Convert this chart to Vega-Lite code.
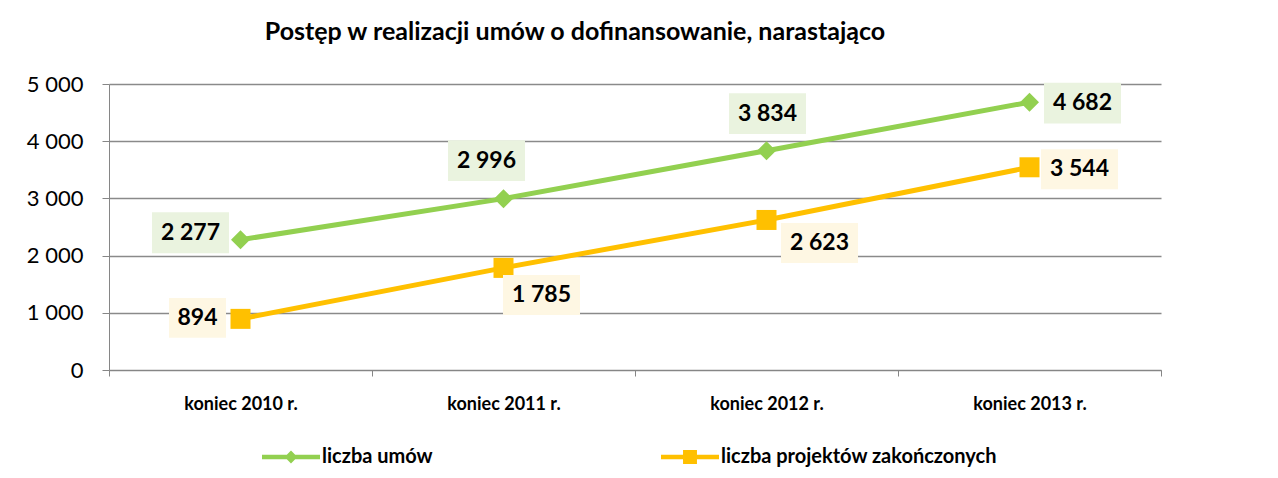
{
  "$schema": "https://vega.github.io/schema/vega-lite/v6.json",
  "width": 1052,
  "height": 286,
  "autosize": {"type": "none"},
  "padding": {"left": 109, "top": 84, "right": 117, "bottom": 108},
  "background": "white",
  "title": {
    "text": "Postęp w realizacji umów o dofinansowanie, narastająco",
    "anchor": "middle",
    "dx": -60,
    "offset": 28,
    "fontSize": 25,
    "fontWeight": "bold",
    "font": "Lato",
    "color": "black"
  },
  "data": {
    "values": [
      {"year": "koniec 2010 r.", "series": "liczba umów", "value": 2277},
      {"year": "koniec 2011 r.", "series": "liczba umów", "value": 2996},
      {"year": "koniec 2012 r.", "series": "liczba umów", "value": 3834},
      {"year": "koniec 2013 r.", "series": "liczba umów", "value": 4682},
      {"year": "koniec 2010 r.", "series": "liczba projektów zakończonych", "value": 894},
      {"year": "koniec 2011 r.", "series": "liczba projektów zakończonych", "value": 1785},
      {"year": "koniec 2012 r.", "series": "liczba projektów zakończonych", "value": 2623},
      {"year": "koniec 2013 r.", "series": "liczba projektów zakończonych", "value": 3544}
    ]
  },
  "encoding": {
    "x": {
      "field": "year",
      "type": "nominal",
      "sort": null,
      "bandPosition": 0.5,
      "scale": {"type": "band", "paddingInner": 0, "paddingOuter": 0},
      "axis": {
        "title": null,
        "labelAngle": 0,
        "labelFont": "Lato",
        "labelFontSize": 18,
        "labelFontWeight": "bold",
        "labelColor": "black",
        "labelPadding": 19,
        "tickBand": "extent",
        "tickSize": 6,
        "tickColor": "#868686",
        "domainColor": "#868686",
        "grid": false
      }
    },
    "y": {
      "field": "value",
      "type": "quantitative",
      "scale": {"domain": [0, 5000]},
      "axis": {
        "title": null,
        "values": [0, 1000, 2000, 3000, 4000, 5000],
        "format": ",d",
        "labelFont": "Lato",
        "labelFontSize": 22,
        "labelColor": "black",
        "labelPadding": 19,
        "tickSize": 7,
        "tickColor": "#868686",
        "domainColor": "#868686",
        "gridColor": "#8a8a8a",
        "gridWidth": 1.3
      }
    }
  },
  "layer": [
    {
      "mark": {"type": "line", "strokeWidth": 5},
      "encoding": {
        "color": {
          "field": "series",
          "type": "nominal",
          "sort": null,
          "scale": {"domain": ["liczba umów", "liczba projektów zakończonych"], "range": ["#92D050", "#FFC000"]},
          "legend": {
            "orient": "none",
            "legendX": 153,
            "legendY": 344,
            "direction": "horizontal",
            "title": null,
            "labelFont": "Lato",
            "labelFontSize": 20,
            "labelFontWeight": "bold",
            "labelColor": "black",
            "labelOffset": 2,
            "labelLimit": 500,
            "symbolSize": 3364,
            "columnPadding": 228,
            "padding": 0,
            "encode": {
              "symbols": {
                "update": {
                  "shape": {"signal": "datum.value == 'liczba umów' ? 'M-1,-0.08H1V0.08H-1Z M-0.22,0L0,-0.22L0.22,0L0,0.22Z' : 'M-1,-0.08H1V0.08H-1Z M-0.24,-0.24H0.24V0.24H-0.24Z'"},
                  "size": {"value": 3364},
                  "fill": {"signal": "scale('color', datum.value)"},
                  "fillOpacity": {"value": 1},
                  "strokeWidth": {"value": 0}
                }
              }
            }
          }
        }
      }
    },
    {
      "transform": [{"filter": "datum.series == 'liczba umów'"}],
      "mark": {"type": "point", "shape": "diamond", "size": 361, "filled": true, "opacity": 1, "color": "#92D050"}
    },
    {
      "transform": [{"filter": "datum.series != 'liczba umów'"}],
      "mark": {"type": "point", "shape": "square", "size": 400, "filled": true, "opacity": 1, "color": "#FFC000"}
    },
    {
      "transform": [{"filter": "datum.series == 'liczba umów' && datum.year == 'koniec 2010 r.'"}],
      "layer": [
        {"mark": {"type": "point", "shape": "M-1,-0.53H1V0.53H-1Z", "size": 5929, "filled": true, "color": "#EAF3DF", "opacity": 1, "xOffset": -50, "yOffset": -7}},
        {"mark": {"type": "text", "font": "Lato", "fontSize": 23, "fontWeight": "bold", "color": "black", "xOffset": -50, "yOffset": -7, "baseline": "middle"}, "encoding": {"text": {"field": "value", "type": "quantitative", "format": ",d"}}}
      ]
    },
    {
      "transform": [{"filter": "datum.series == 'liczba umów' && datum.year == 'koniec 2011 r.'"}],
      "layer": [
        {"mark": {"type": "point", "shape": "M-1,-0.53H1V0.53H-1Z", "size": 5929, "filled": true, "color": "#EAF3DF", "opacity": 1, "xOffset": -17, "yOffset": -38}},
        {"mark": {"type": "text", "font": "Lato", "fontSize": 23, "fontWeight": "bold", "color": "black", "xOffset": -17, "yOffset": -38, "baseline": "middle"}, "encoding": {"text": {"field": "value", "type": "quantitative", "format": ",d"}}}
      ]
    },
    {
      "transform": [{"filter": "datum.series == 'liczba umów' && datum.year == 'koniec 2012 r.'"}],
      "layer": [
        {"mark": {"type": "point", "shape": "M-1,-0.53H1V0.53H-1Z", "size": 5929, "filled": true, "color": "#EAF3DF", "opacity": 1, "xOffset": 1, "yOffset": -37}},
        {"mark": {"type": "text", "font": "Lato", "fontSize": 23, "fontWeight": "bold", "color": "black", "xOffset": 1, "yOffset": -37, "baseline": "middle"}, "encoding": {"text": {"field": "value", "type": "quantitative", "format": ",d"}}}
      ]
    },
    {
      "transform": [{"filter": "datum.series == 'liczba umów' && datum.year == 'koniec 2013 r.'"}],
      "layer": [
        {"mark": {"type": "point", "shape": "M-1,-0.53H1V0.53H-1Z", "size": 5929, "filled": true, "color": "#EAF3DF", "opacity": 1, "xOffset": 53, "yOffset": 1}},
        {"mark": {"type": "text", "font": "Lato", "fontSize": 23, "fontWeight": "bold", "color": "black", "xOffset": 53, "yOffset": 1, "baseline": "middle"}, "encoding": {"text": {"field": "value", "type": "quantitative", "format": ",d"}}}
      ]
    },
    {
      "transform": [{"filter": "datum.series != 'liczba umów' && datum.year == 'koniec 2010 r.'"}],
      "layer": [
        {"mark": {"type": "point", "shape": "M-1,-0.7H1V0.7H-1Z", "size": 3249, "filled": true, "color": "#FEF7E3", "opacity": 1, "xOffset": -43, "yOffset": -1}},
        {"mark": {"type": "text", "font": "Lato", "fontSize": 23, "fontWeight": "bold", "color": "black", "xOffset": -43, "yOffset": -1, "baseline": "middle"}, "encoding": {"text": {"field": "value", "type": "quantitative", "format": ",d"}}}
      ]
    },
    {
      "transform": [{"filter": "datum.series != 'liczba umów' && datum.year == 'koniec 2011 r.'"}],
      "layer": [
        {"mark": {"type": "point", "shape": "M-1,-0.52H1V0.52H-1Z", "size": 5929, "filled": true, "color": "#FEF7E3", "opacity": 1, "xOffset": 38, "yOffset": 27}},
        {"mark": {"type": "text", "font": "Lato", "fontSize": 23, "fontWeight": "bold", "color": "black", "xOffset": 38, "yOffset": 27, "baseline": "middle"}, "encoding": {"text": {"field": "value", "type": "quantitative", "format": ",d"}}}
      ]
    },
    {
      "transform": [{"filter": "datum.series != 'liczba umów' && datum.year == 'koniec 2012 r.'"}],
      "layer": [
        {"mark": {"type": "point", "shape": "M-1,-0.52H1V0.52H-1Z", "size": 5929, "filled": true, "color": "#FEF7E3", "opacity": 1, "xOffset": 53, "yOffset": 23}},
        {"mark": {"type": "text", "font": "Lato", "fontSize": 23, "fontWeight": "bold", "color": "black", "xOffset": 53, "yOffset": 23, "baseline": "middle"}, "encoding": {"text": {"field": "value", "type": "quantitative", "format": ",d"}}}
      ]
    },
    {
      "transform": [{"filter": "datum.series != 'liczba umów' && datum.year == 'koniec 2013 r.'"}],
      "layer": [
        {"mark": {"type": "point", "shape": "M-1,-0.52H1V0.52H-1Z", "size": 5929, "filled": true, "color": "#FEF7E3", "opacity": 1, "xOffset": 50, "yOffset": 2}},
        {"mark": {"type": "text", "font": "Lato", "fontSize": 23, "fontWeight": "bold", "color": "black", "xOffset": 50, "yOffset": 2, "baseline": "middle"}, "encoding": {"text": {"field": "value", "type": "quantitative", "format": ",d"}}}
      ]
    }
  ],
  "config": {
    "locale": {"number": {"decimal": ",", "thousands": " ", "grouping": [3], "currency": ["", " zł"]}},
    "font": "Lato",
    "view": {"stroke": null}
  }
}
